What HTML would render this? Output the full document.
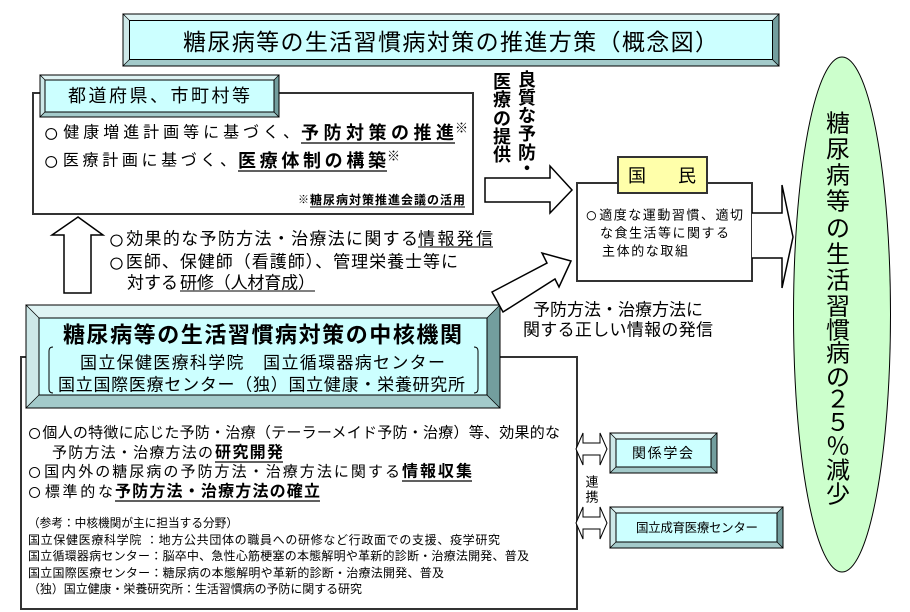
<!DOCTYPE html>
<html><head><meta charset="utf-8"><style>
html,body{margin:0;padding:0;background:#fff;}
svg{display:block;}
text,tspan{font-family:"Liberation Sans","Noto Sans CJK JP",sans-serif;fill:#000;dominant-baseline:central;}
.b{font-weight:bold;}
.m{text-anchor:middle;}
</style></head><body>
<svg width="910" height="612" viewBox="0 0 910 612" xmlns="http://www.w3.org/2000/svg">
<rect x="0" y="0" width="910" height="612" fill="#fff"/>

<!-- Title bevel box -->
<g stroke="#000" stroke-width="0.6">
<polygon points="123,14 779,14 772.5,20.5 129.5,20.5" fill="#dff4f4"/>
<polygon points="123,14 129.5,20.5 129.5,59.5 123,66" fill="#cde8e8"/>
<polygon points="123,66 129.5,59.5 772.5,59.5 779,66" fill="#a3caca"/>
<polygon points="779,14 779,66 772.5,59.5 772.5,20.5" fill="#739e9e"/>
</g>
<rect x="129.5" y="20.5" width="643" height="39" fill="#ccffff" stroke="#000" stroke-width="1"/>
<rect x="123" y="14" width="656" height="52" fill="none" stroke="#000" stroke-width="1"/>
<text x="183" y="42" font-size="23" textLength="535" lengthAdjust="spacing">糖尿病等の生活習慣病対策の推進方策（概念図）</text>

<!-- Prefecture box -->
<rect x="33" y="93" width="440" height="121" fill="#fff" stroke="#333" stroke-width="2"/>
<g stroke="#000" stroke-width="0.6">
<polygon points="40,75 279,75 274,80 45,80" fill="#dff4f4"/>
<polygon points="40,75 45,80 45,112 40,117" fill="#cde8e8"/>
<polygon points="40,117 45,112 274,112 279,117" fill="#a3caca"/>
<polygon points="279,75 279,117 274,112 274,80" fill="#739e9e"/>
</g>
<rect x="45" y="80" width="229" height="32" fill="#ccffff" stroke="#000" stroke-width="1"/>
<rect x="40" y="75" width="239" height="42" fill="none" stroke="#000" stroke-width="1"/>
<text x="68" y="96" font-size="18" textLength="182" lengthAdjust="spacing">都道府県、市町村等</text>

<text x="43" y="133" font-size="16" textLength="256" lengthAdjust="spacing"><tspan font-size="27">○</tspan>健康増進計画等に基づく、</text>
<text x="301" y="133" font-size="18" class="b" textLength="153" lengthAdjust="spacing">予防対策の推進</text>
<line x1="301" y1="143" x2="455" y2="143" stroke="#000" stroke-width="1.3"/>
<text x="455" y="128" font-size="13" class="b">※</text>
<text x="43" y="161" font-size="16" textLength="193" lengthAdjust="spacing"><tspan font-size="27">○</tspan>医療計画に基づく、</text>
<text x="238" y="161" font-size="18" class="b" textLength="148" lengthAdjust="spacing">医療体制の構築</text>
<line x1="238" y1="171" x2="387" y2="171" stroke="#000" stroke-width="1.3"/>
<text x="387" y="156" font-size="13" class="b">※</text>
<text x="298" y="200" font-size="11">※</text>
<text x="310" y="200" font-size="12" class="b" textLength="155" lengthAdjust="spacing">糖尿病対策推進会議の活用</text>
<line x1="310" y1="207" x2="465" y2="207" stroke="#000" stroke-width="1"/>

<!-- Vertical text 良質な予防・医療の提供 -->
<g font-size="18" class="b">
<text x="527" y="80" class="m b">良</text>
<text x="527" y="98" class="m b">質</text>
<text x="527" y="116" class="m b">な</text>
<text x="527" y="134" class="m b">予</text>
<text x="527" y="153" class="m b">防</text>
<text x="527" y="169" class="m b">・</text>
<text x="502" y="82" class="m b">医</text>
<text x="502" y="100" class="m b">療</text>
<text x="502" y="119" class="m b">の</text>
<text x="502" y="137" class="m b">提</text>
<text x="502" y="155" class="m b">供</text>
</g>

<!-- Arrow to 国民 -->
<polygon points="485,178 550,178 550,166 572,190 550,213 550,202 485,202" fill="#fff" stroke="#000" stroke-width="1.5" stroke-linejoin="miter"/>

<!-- 国民 box -->
<rect x="577" y="183" width="175" height="98" fill="#fff" stroke="#333" stroke-width="2"/>
<rect x="618" y="157" width="89" height="36" fill="#ffffaa" stroke="#333" stroke-width="2"/>
<text x="637" y="176" font-size="18" class="m">国</text>
<text x="687" y="176" font-size="18" class="m">民</text>
<text x="585" y="215" font-size="13" textLength="158" lengthAdjust="spacing"><tspan font-size="21">○</tspan>適度な運動習慣、適切</text>
<text x="600" y="233" font-size="13" textLength="129" lengthAdjust="spacing">な食生活等に関する</text>
<text x="602" y="251" font-size="13" textLength="86" lengthAdjust="spacing">主体的な取組</text>

<!-- Arrow to ellipse -->
<polyline points="752,213 782,213 782,185 793,237 782,288 782,258 752,258" fill="#fff" stroke="#000" stroke-width="1.5"/>

<!-- Ellipse -->
<ellipse cx="842" cy="314.5" rx="48.5" ry="257.5" fill="#ccffcc" stroke="#000" stroke-width="1"/>
<g font-size="24">
<text x="838" y="124" class="m">糖</text>
<text x="838" y="150" class="m">尿</text>
<text x="838" y="176" class="m">病</text>
<text x="838" y="202" class="m">等</text>
<text x="838" y="229" class="m">の</text>
<text x="838" y="255" class="m">生</text>
<text x="838" y="281" class="m">活</text>
<text x="838" y="307" class="m">習</text>
<text x="838" y="331" class="m">慣</text>
<text x="838" y="354" class="m">病</text>
<text x="838" y="378" class="m">の</text>
<text x="838" y="400" class="m">２</text>
<text x="838" y="423" class="m">５</text>
<text x="838" y="447" class="m">％</text>
<text x="838" y="471" class="m">減</text>
<text x="838" y="495" class="m">少</text>
</g>

<!-- Up arrow -->
<polygon points="78,217 103,235 91,235 91,293 64,293 64,235 52,235" fill="#fff" stroke="#000" stroke-width="1.5"/>

<!-- Left text -->
<text x="108" y="239" font-size="17" textLength="310" lengthAdjust="spacing"><tspan font-size="28">○</tspan>効果的な予防方法・治療法に関する</text>
<text x="418" y="239" font-size="17" textLength="75" lengthAdjust="spacing">情報発信</text>
<line x1="418" y1="247" x2="493" y2="247" stroke="#000" stroke-width="1"/>
<text x="108" y="262" font-size="17" textLength="350" lengthAdjust="spacing"><tspan font-size="28">○</tspan>医師、保健師（看護師）、管理栄養士等に</text>
<text x="127" y="283" font-size="17" textLength="51" lengthAdjust="spacing">対する</text>
<text x="180" y="283" font-size="17" textLength="135" lengthAdjust="spacing">研修（人材育成）</text>
<line x1="180" y1="291" x2="315" y2="291" stroke="#000" stroke-width="1"/>

<!-- Core outer frame -->
<path d="M500,357 H577 V609 H21 V357 H26" fill="none" stroke="#333" stroke-width="2"/>

<!-- Core bevel box -->
<g stroke="#000" stroke-width="0.6">
<polygon points="26,305 500,305 487,318 39,318" fill="#dff4f4"/>
<polygon points="26,305 39,318 39,395 26,408" fill="#cde8e8"/>
<polygon points="26,408 39,395 487,395 500,408" fill="#a3caca"/>
<polygon points="500,305 500,408 487,395 487,318" fill="#739e9e"/>
</g>
<rect x="39" y="318" width="448" height="77" fill="#ccffff" stroke="#000" stroke-width="1"/>
<rect x="26" y="305" width="474" height="103" fill="none" stroke="#000" stroke-width="1"/>
<text x="63" y="335" font-size="22" class="b" textLength="399" lengthAdjust="spacing">糖尿病等の生活習慣病対策の中核機関</text>
<text x="80" y="363" font-size="17" textLength="365" lengthAdjust="spacing">国立保健医療科学院　国立循環器病センター</text>
<text x="58" y="385" font-size="17" textLength="407" lengthAdjust="spacing">国立国際医療センター（独）国立健康・栄養研究所</text>
<path d="M53,347 Q49,347 49,351 L49,389 Q49,393 53,393" fill="none" stroke="#000" stroke-width="1"/>
<path d="M474,347 Q478,347 478,351 L478,389 Q478,393 474,393" fill="none" stroke="#000" stroke-width="1"/>

<!-- Diagonal arrow -->
<polygon points="492,292 547,263 542,253 571,261 559,287 555,279 503,312" fill="#fff" stroke="#000" stroke-width="1.5"/>
<text x="533" y="310" font-size="17" textLength="170" lengthAdjust="spacing">予防方法・治療方法に</text>
<text x="523" y="330" font-size="17" textLength="190" lengthAdjust="spacing">関する正しい情報の発信</text>

<!-- Core text -->
<text x="27" y="433" font-size="15" textLength="533" lengthAdjust="spacing"><tspan font-size="25">○</tspan>個人の特徴に応じた予防・治療（テーラーメイド予防・治療）等、効果的な</text>
<text x="52" y="453" font-size="15" textLength="161" lengthAdjust="spacing">予防方法・治療方法の</text>
<text x="215" y="453" font-size="16" class="b" textLength="68" lengthAdjust="spacing">研究開発</text>
<line x1="215" y1="462" x2="283" y2="462" stroke="#000" stroke-width="1.2"/>
<text x="27" y="472" font-size="15" textLength="373" lengthAdjust="spacing"><tspan font-size="25">○</tspan>国内外の糖尿病の予防方法・治療方法に関する</text>
<text x="402" y="472" font-size="16" class="b" textLength="70" lengthAdjust="spacing">情報収集</text>
<line x1="402" y1="481" x2="472" y2="481" stroke="#000" stroke-width="1.2"/>
<text x="27" y="492" font-size="15" textLength="86" lengthAdjust="spacing"><tspan font-size="25">○</tspan>標準的な</text>
<text x="115" y="492" font-size="16" class="b" textLength="205" lengthAdjust="spacing">予防方法・治療方法の確立</text>
<line x1="115" y1="501" x2="320" y2="501" stroke="#000" stroke-width="1.2"/>

<text x="28" y="523" font-size="12" textLength="210" lengthAdjust="spacingAndGlyphs">（参考：中核機関が主に担当する分野）</text>
<text x="28" y="540" font-size="12" textLength="472" lengthAdjust="spacing">国立保健医療科学院 ：地方公共団体の職員への研修など行政面での支援、疫学研究</text>
<text x="28" y="556" font-size="12" textLength="501" lengthAdjust="spacing">国立循環器病センター：脳卒中、急性心筋梗塞の本態解明や革新的診断・治療法開発、普及</text>
<text x="28" y="573" font-size="12" textLength="416" lengthAdjust="spacing">国立国際医療センター：糖尿病の本態解明や革新的診断・治療法開発、普及</text>
<text x="28" y="589" font-size="12" textLength="334" lengthAdjust="spacing">（独）国立健康・栄養研究所：生活習慣病の予防に関する研究</text>

<!-- 連携 arrows -->
<polygon points="576,449 583,433 583,443 600,443 600,433 607,449 600,465 600,455 583,455 583,465" fill="#fff" stroke="#000" stroke-width="1"/>
<polygon points="576,523 583,507 583,517 600,517 600,507 607,523 600,539 600,529 583,529 583,539" fill="#fff" stroke="#000" stroke-width="1"/>
<text x="592" y="482" font-size="13" class="m">連</text>
<text x="592" y="497" font-size="13" class="m">携</text>

<!-- 関係学会 -->
<g stroke="#000" stroke-width="0.6">
<polygon points="610,433 717,433 711,439 616,439" fill="#dff4f4"/>
<polygon points="610,433 616,439 616,467 610,473" fill="#cde8e8"/>
<polygon points="610,473 616,467 711,467 717,473" fill="#a3caca"/>
<polygon points="717,433 717,473 711,467 711,439" fill="#739e9e"/>
</g>
<rect x="616" y="439" width="95" height="28" fill="#ccffff" stroke="#000" stroke-width="1"/>
<rect x="610" y="433" width="107" height="40" fill="none" stroke="#000" stroke-width="1"/>
<text x="632" y="453" font-size="14" textLength="61" lengthAdjust="spacing">関係学会</text>

<!-- 国立成育医療センター -->
<g stroke="#000" stroke-width="0.6">
<polygon points="610,507 783,507 777,513 616,513" fill="#dff4f4"/>
<polygon points="610,507 616,513 616,542 610,548" fill="#cde8e8"/>
<polygon points="610,548 616,542 777,542 783,548" fill="#a3caca"/>
<polygon points="783,507 783,548 777,542 777,513" fill="#739e9e"/>
</g>
<rect x="616" y="513" width="161" height="29" fill="#ccffff" stroke="#000" stroke-width="1"/>
<rect x="610" y="507" width="173" height="41" fill="none" stroke="#000" stroke-width="1"/>
<text x="636" y="528" font-size="12.5" textLength="122" lengthAdjust="spacing">国立成育医療センター</text>
</svg>
</body></html>
